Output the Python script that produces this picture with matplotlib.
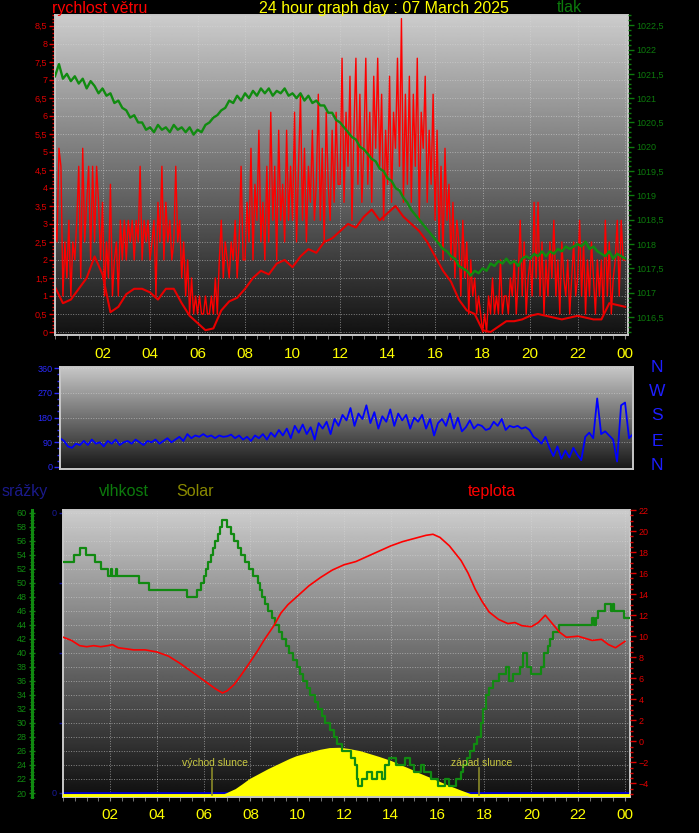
import numpy as np
import matplotlib
matplotlib.use('Agg')
import matplotlib.pyplot as plt
from matplotlib.ticker import MultipleLocator, FixedLocator, FixedFormatter, FuncFormatter

plt.rcParams['font.family'] = ['Liberation Sans', 'DejaVu Sans']

# ---------------- data ----------------
hour_ticks = [2, 4, 6, 8, 10, 12, 14, 16, 18, 20, 22, 24]
hour_labels = ['02', '04', '06', '08', '10', '12', '14', '16', '18', '20', '22', '00']

# wind gusts, m/s, every 5 minutes from 00:00 to 24:00
wind_gust = [
    3.1, 2.5, 5.1, 4.6, 1.0, 2.5, 1.5, 3.1, 1.0, 2.5, 2.0, 3.1,
    4.6, 1.5, 5.1, 2.5, 3.6, 4.6, 2.0, 4.6, 2.5, 4.6, 3.6, 2.0,
    3.6, 1.0, 2.5, 1.5, 4.1, 1.0, 2.0, 2.5, 1.0, 3.1, 2.0, 3.1,
    2.0, 3.1, 2.5, 3.1, 2.0, 3.1, 2.5, 4.6, 2.0, 3.1, 2.5, 3.1,
    2.0, 2.5, 3.1, 1.0, 3.6, 2.5, 4.6, 2.0, 3.6, 2.5, 3.1, 2.0,
    2.5, 4.6, 2.5, 3.1, 1.5, 2.5, 1.0, 2.0, 0.5, 1.5, 0.5, 1.0,
    0.5, 1.0, 0.5, 0.5, 1.0, 0.5, 0.5, 1.0, 0.5, 1.5, 0.5, 2.0,
    3.1, 1.5, 2.5, 2.0, 1.5, 2.5, 2.0, 3.1, 1.5, 2.5, 4.6, 2.0,
    2.0, 3.6, 2.5, 5.1, 2.0, 4.1, 3.1, 5.6, 2.5, 3.6, 2.0, 4.6,
    2.5, 6.1, 3.1, 4.6, 2.0, 5.6, 3.1, 4.1, 2.5, 5.6, 3.1, 4.6,
    3.1, 6.1, 2.5, 4.6, 6.6, 3.1, 5.1, 2.5, 4.6, 3.6, 5.6, 3.1,
    4.1, 6.6, 3.1, 5.1, 2.5, 6.1, 4.1, 3.1, 5.6, 3.6, 6.1, 4.1,
    4.1, 7.6, 3.6, 6.1, 4.6, 7.1, 3.1, 5.6, 7.6, 4.1, 6.6, 3.6,
    5.1, 7.6, 4.1, 6.1, 3.6, 7.1, 5.1, 7.6, 4.6, 6.6, 3.1, 5.6,
    4.1, 7.1, 3.6, 6.1, 5.1, 7.6, 4.6, 8.7, 3.6, 6.6, 4.1, 7.1,
    3.6, 6.6, 4.6, 7.6, 3.1, 6.1, 5.1, 7.1, 3.6, 5.6, 4.1, 6.6,
    3.1, 5.6, 2.5, 4.6, 2.0, 5.1, 3.1, 4.1, 2.0, 3.6, 1.5, 3.1,
    2.5, 1.0, 3.1, 1.5, 2.5, 0.5, 2.0, 1.0, 1.5, 0.5, 1.0, 0.5,
    0.0, 0.5, 0.0, 1.0, 0.5, 1.5, 0.5, 1.0, 0.5, 2.0, 0.5, 1.0,
    1.0, 0.5, 1.5, 1.0, 2.0, 0.5, 1.5, 3.1, 1.0, 2.5, 0.5, 1.5,
    2.0, 1.0, 3.6, 1.5, 3.6, 1.0, 2.5, 0.5, 2.0, 1.0, 2.5, 1.5,
    3.1, 1.0, 2.0, 0.5, 2.5, 1.5, 1.0, 2.0, 0.5, 1.5, 2.5, 1.0,
    1.5, 3.1, 1.0, 2.5, 0.5, 2.0, 1.0, 2.5, 1.5, 0.5, 2.0, 1.0,
    2.0, 0.5, 3.1, 1.0, 2.5, 0.5, 1.5, 2.0, 3.1, 1.0, 3.1, 2.0,
    2.0,
]

# average wind, m/s, every 20 minutes
wind_avg = [
    1.25, 0.8, 0.9, 1.2, 1.5, 2.1, 1.6, 0.55, 0.7, 1.05, 1.2, 1.2,
    1.1, 0.9, 1.2, 1.2, 0.8, 0.45, 0.25, 0.05, 0.1, 0.6, 0.85, 0.95,
    1.2, 1.5, 1.7, 1.6, 1.9, 2.0, 1.8, 2.1, 2.3, 2.2, 2.5, 2.6,
    2.8, 3.0, 2.9, 3.2, 3.4, 3.1, 3.3, 3.5, 3.2, 3.0, 2.8, 2.5,
    2.1, 1.7, 1.4, 0.9, 0.6, 0.5, 0.05, 0.0, 0.15, 0.3, 0.3, 0.35,
    0.45, 0.5, 0.45, 0.4, 0.35, 0.4, 0.45, 0.4, 0.35, 0.35, 0.8, 0.75, 0.7,
]

# pressure, hPa, every 10 minutes
pressure = [
    1021.45, 1021.7, 1021.4, 1021.5, 1021.35, 1021.45,
    1021.3, 1021.4, 1021.2, 1021.35, 1021.25, 1021.1,
    1021.2, 1021.05, 1021.1, 1020.9, 1020.95, 1020.8,
    1020.75, 1020.6, 1020.65, 1020.5, 1020.5, 1020.35,
    1020.4, 1020.3, 1020.45, 1020.35, 1020.4, 1020.3,
    1020.45, 1020.35, 1020.4, 1020.3, 1020.4, 1020.25,
    1020.35, 1020.3, 1020.45, 1020.5, 1020.6, 1020.65,
    1020.75, 1020.8, 1020.95, 1020.9, 1021.05, 1020.95,
    1021.1, 1021.0, 1021.15, 1021.05, 1021.2, 1021.1,
    1021.2, 1021.05, 1021.15, 1021.1, 1021.2, 1021.05,
    1021.1, 1021.0, 1021.1, 1020.95, 1021.05, 1020.9,
    1020.95, 1020.85, 1020.85, 1020.7, 1020.7, 1020.55,
    1020.5, 1020.4, 1020.3, 1020.2, 1020.15, 1020.0,
    1019.95, 1019.85, 1019.75, 1019.7, 1019.55, 1019.5,
    1019.35, 1019.3, 1019.15, 1019.1, 1018.95, 1018.85,
    1018.7, 1018.6, 1018.5, 1018.4, 1018.3, 1018.2,
    1018.1, 1018.0, 1017.9, 1017.85, 1017.75, 1017.7,
    1017.55, 1017.5, 1017.45, 1017.35, 1017.45, 1017.4,
    1017.5, 1017.45, 1017.6, 1017.55, 1017.65, 1017.6,
    1017.7, 1017.6, 1017.65, 1017.55, 1017.7, 1017.75,
    1017.7, 1017.8, 1017.75, 1017.85, 1017.75, 1017.85,
    1017.8, 1017.9, 1017.85, 1017.95, 1017.9, 1017.95,
    1018.0, 1017.95, 1018.05, 1017.9, 1017.95, 1017.85,
    1017.8, 1017.75, 1017.85, 1017.7, 1017.8, 1017.75,
    1017.7,
]

# wind direction, degrees, every 10 minutes
wind_dir = [
    105, 95, 75, 70, 85, 80,
    95, 80, 100, 85, 90, 75,
    95, 85, 100, 80, 90, 95,
    85, 100, 90, 80, 95, 90,
    100, 85, 95, 105, 90, 100,
    110, 95, 120, 105, 115, 110,
    120, 110, 115, 105, 115, 110,
    112, 118, 105, 115, 100, 110,
    95, 115, 105, 120, 100, 125,
    110, 135, 115, 140, 105, 150,
    125, 155, 120, 145, 100, 160,
    140, 165, 120, 175, 150, 190,
    170, 215, 150, 195, 175, 225,
    160, 200, 140, 185, 165, 210,
    150, 195, 170, 190, 140, 180,
    165, 190, 140, 175, 115, 160,
    175, 150, 195, 140, 180, 130,
    145, 170, 140, 155, 150, 135,
    140, 165, 150, 175, 135, 150,
    145, 150, 140, 145, 135, 110,
    100, 85, 110, 70, 40, 75,
    30, 60, 35, 70, 45, 25,
    110, 125, 105, 250, 120, 130,
    115, 100, 20, 225, 235, 105,
    120,
]

# humidity, %, step changes
hum_time = [0.0, 0.45, 0.7, 0.95, 1.35, 1.6, 1.9, 2.05, 2.1, 2.25, 2.3, 3.25, 3.65, 5.3, 5.7,
            5.9, 6.0, 6.1, 6.2, 6.3, 6.4, 6.5, 6.6, 6.7, 6.8, 7.0, 7.15, 7.3, 7.45, 7.6,
            7.75, 7.95, 8.1, 8.3, 8.4, 8.5, 8.6, 8.75, 8.9, 9.05, 9.2, 9.35, 9.5, 9.65, 9.8,
            10.0, 10.1, 10.25, 10.4, 10.55, 10.75, 10.9, 11.05, 11.2, 11.4, 11.55, 11.7, 11.9,
            12.3, 12.45, 12.55, 12.6, 12.75, 13.0, 13.2, 13.4, 13.6, 13.75, 13.9, 14.2, 14.6,
            14.8, 15.0, 15.3, 15.4, 15.7, 16.0, 16.3, 16.5, 16.8, 17.0, 17.1, 17.25, 17.4,
            17.55, 17.7, 17.85, 17.95, 18.05, 18.2, 18.35, 18.6, 18.9, 19.05, 19.2, 19.5,
            19.65, 19.8, 20.0, 20.4, 20.55, 20.7, 20.8, 20.95, 21.2, 22.6, 22.7, 22.75,
            22.85, 23.15, 23.4, 23.5, 23.55, 23.95, 24.22]
hum_value = [53, 54, 55, 54, 53, 52, 51, 52, 51, 52, 51, 50, 49, 48, 49,
             50, 51, 52, 53, 54, 55, 56, 57, 58, 59, 58, 57, 56, 55, 54,
             53, 52, 51, 50, 49, 48, 47, 46, 45, 44, 43, 42, 41, 40, 39,
             38, 37, 36, 35, 34, 33, 32, 31, 30, 29, 28, 27, 26,
             25, 24, 22, 21, 22, 23, 22, 23, 22, 24, 25, 24, 25,
             24, 23, 24, 23, 22, 21, 22, 21, 22, 23, 24, 25, 26,
             27, 28, 30, 32, 34, 35, 36, 37, 38, 36, 37, 38,
             40, 38, 37, 38, 40, 41, 42, 43, 44, 45, 44, 45,
             46, 47, 46, 47, 46, 45, 45]

# temperature, degC
temp_time = [0, 0.35, 0.7, 1.0, 1.3, 1.6, 1.9, 2.1, 2.35, 2.7, 3.0, 3.5, 4.0, 4.5, 5.0, 5.5,
             6.0, 6.5, 6.8, 7.0, 7.3, 7.6, 8.0, 8.3, 8.6, 9.0, 9.3, 9.6, 10.0, 10.5, 11.0,
             11.5, 12.0, 12.5, 13.0, 13.5, 14.0, 14.5, 15.0, 15.5, 15.8, 16.1, 16.5, 17.0,
             17.3, 17.6, 17.9, 18.2, 18.6, 19.0, 19.3, 19.6, 20.0, 20.3, 20.6, 20.9, 21.2,
             21.5, 22.0, 22.3, 22.6, 23.0, 23.3, 23.6, 24.0]
temp_value = [9.9, 9.6, 9.1, 9.0, 9.1, 9.0, 9.1, 9.2, 8.9, 8.8, 8.7, 8.7, 8.5, 8.1, 7.4, 6.6,
              5.8, 5.0, 4.6, 4.8, 5.4, 6.3, 7.6, 8.6, 9.7, 11.0, 12.2, 13.0, 13.8, 14.8, 15.6,
              16.3, 16.8, 17.1, 17.6, 18.1, 18.6, 19.0, 19.3, 19.6, 19.7, 19.4, 18.6, 17.2,
              16.0, 14.5, 13.3, 12.3, 11.6, 11.2, 11.3, 11.0, 10.9, 11.3, 12.0, 11.2, 10.4,
              9.9, 10.0, 9.8, 9.6, 9.7, 9.2, 8.9, 9.5]

# solar radiation, W/m2
solar_time = [0, 6.9, 7.0, 7.4, 7.7, 8.0, 8.8, 9.7, 10.0, 10.5, 11.0, 11.4, 11.8, 12.2, 12.7,
              13.1, 13.5, 14.0, 14.8, 15.2, 15.7, 16.1, 16.5, 17.0, 17.4, 24.22]
solar_value = [0, 0, 3, 18, 35, 53, 88, 123, 133, 144, 155, 161, 162, 158, 150,
               140, 130, 116, 88, 73, 56, 42, 28, 12, 0, 0]

# rain, mm
rain_time = [0, 24.22]
rain_value = [0, 0]

sunrise_h = 6.35
sunset_h = 17.76

# ---------------- figure ----------------
W, H = 699, 833
fig = plt.figure(figsize=(W / 100, H / 100), dpi=100, facecolor='black')


def rect(l, t, r, b):
    return [l / W, 1 - b / H, (r - l) / W, (b - t) / H]


def comma(v, p):
    return ('%g' % v).replace('.', ',')


GRID = dict(color='#d8d8d8', linestyle=(0, (1, 1.6)), linewidth=0.7, alpha=0.55)


def background(r, xlim, ylim, top, bottom, xgrid, ygrid):
    bg = fig.add_axes(r, zorder=0)
    g = np.linspace(top, bottom, 256)[:, None]
    bg.imshow(g, cmap='gray', vmin=0, vmax=1, aspect='auto',
              extent=[xlim[0], xlim[1], ylim[0], ylim[1]], origin='upper',
              interpolation='bilinear')
    bg.set_xlim(*xlim)
    bg.set_ylim(*ylim)
    for v in xgrid:
        bg.axvline(v, **GRID)
    for v in ygrid:
        bg.axhline(v, **GRID)
    bg.set_xticks([])
    bg.set_yticks([])
    for s in bg.spines.values():
        s.set_visible(False)
    return bg


def style_spines(ax, color='#c8c8c8', lw=1.4):
    for s in ax.spines.values():
        s.set_color(color)
        s.set_linewidth(lw)


def hide_spines(ax):
    for s in ax.spines.values():
        s.set_visible(False)


YELLOW = '#ffff00'
RED = '#ff0000'
GREEN = '#108c10'
BLUE = '#0000ff'

# ---------------- top panel: wind + pressure ----------------
top_rect = rect(55, 15, 628, 335)
top_xlim = (0, 24.12)
wind_ylim = (-0.083, 8.8)
background(top_rect, top_xlim, wind_ylim, 0.80, 0.07,
           hour_ticks, np.arange(0, 8.51, 0.5))

ax1 = fig.add_axes(top_rect, zorder=1)
ax1.set_facecolor('none')
t_gust = np.arange(len(wind_gust)) / 12.0
t_avg = np.arange(len(wind_avg)) / 3.0
ax1.plot(t_gust, wind_gust, color=RED, lw=1.0)
ax1.plot(t_avg, wind_avg, color='#e80000', lw=1.5)
ax1.set_xlim(*top_xlim)
ax1.set_ylim(*wind_ylim)
ax1.yaxis.set_major_locator(FixedLocator(np.arange(0, 8.51, 0.5)))
ax1.yaxis.set_minor_locator(MultipleLocator(0.1))
ax1.yaxis.set_major_formatter(FuncFormatter(comma))
ax1.tick_params(axis='y', which='major', colors='#e00000', labelsize=6.5, length=4, width=1, pad=1.5)
ax1.tick_params(axis='y', which='minor', colors='#e00000', length=2, width=1)
ax1.set_xticks(hour_ticks, hour_labels)
ax1.xaxis.set_minor_locator(MultipleLocator(0.5))
ax1.tick_params(axis='x', which='major', colors='#8a8a8a', labelcolor=YELLOW, labelsize=11, length=3, pad=6)
ax1.tick_params(axis='x', which='minor', colors='#8a8a8a', length=3)
style_spines(ax1)

ax1p = ax1.twinx()
ax1p.set_zorder(2)
ax1p.set_facecolor('none')
t_p = np.arange(len(pressure)) / 6.0
ax1p.plot(t_p, pressure, color=GREEN, lw=1.7)
ax1p.set_ylim(1016.13, 1022.71)
ax1p.yaxis.set_major_locator(FixedLocator(np.arange(1016.5, 1022.51, 0.5)))
ax1p.yaxis.set_minor_locator(MultipleLocator(0.1))
ax1p.yaxis.set_major_formatter(FuncFormatter(comma))
ax1p.tick_params(axis='y', which='major', colors='#0c7a0c', labelsize=6.5, length=4, width=1, pad=2)
ax1p.tick_params(axis='y', which='minor', colors='#0c7a0c', length=2, width=1)
hide_spines(ax1p)

# ---------------- middle panel: wind direction ----------------
mid_rect = rect(60, 367, 633, 469)
mid_xlim = (0, 24)
dir_ylim = (-7.3, 364.7)
background(mid_rect, mid_xlim, dir_ylim, 0.78, 0.09, [], [90, 180, 270, 360])
ax2 = fig.add_axes(mid_rect, zorder=1)
ax2.set_facecolor('none')
t_dir = np.arange(len(wind_dir)) / 6.0
ax2.plot(t_dir, wind_dir, color=BLUE, lw=1.3)
ax2.set_xlim(*mid_xlim)
ax2.set_ylim(*dir_ylim)
ax2.set_yticks([0, 90, 180, 270, 360])
ax2.yaxis.set_minor_locator(MultipleLocator(22.5))
ax2.tick_params(axis='y', which='major', colors='#2a2aff', labelsize=6.5, length=4, width=1, pad=1.5)
ax2.tick_params(axis='y', which='minor', colors='#2a2aff', length=2, width=1)
ax2.tick_params(axis='x', which='both', bottom=False, labelbottom=False)
style_spines(ax2)

for lab, y in zip(['N', 'W', 'S', 'E', 'N'], [367, 392, 416, 442, 466]):
    fig.text(657 / W, 1 - y / H, lab, color='#1e1eff', fontsize=12.5,
             ha='center', va='center')

# ---------------- bottom panel ----------------
bot_rect = rect(63.3, 510, 630, 797)
bot_xlim = (0, 24.22)
hum_ylim = (19.43, 60.39)
background(bot_rect, bot_xlim, hum_ylim, 0.80, 0.06,
           hour_ticks, np.arange(20, 60.1, 2))

ax3 = fig.add_axes(bot_rect, zorder=1)
ax3.set_facecolor('none')
ax3.plot(rain_time, rain_value, color='#0000c8', lw=2)
ax3.set_xlim(*bot_xlim)
ax3.set_ylim(-0.0143, 1.0096)
ax3.yaxis.set_major_locator(FixedLocator([0, 0.25, 0.5, 0.75, 1.0]))
ax3.yaxis.set_major_formatter(FixedFormatter(['0', '', '', '', '0']))
ax3.tick_params(axis='y', colors='#1a1a9a', labelsize=6.5, length=3, width=1, pad=1.5)
ax3.set_xticks(hour_ticks, hour_labels)
ax3.xaxis.set_minor_locator(MultipleLocator(0.5))
ax3.tick_params(axis='x', which='major', colors='#8a8a8a', labelcolor=YELLOW, labelsize=11, length=3, pad=5)
ax3.tick_params(axis='x', which='minor', colors='#8a8a8a', length=3)
style_spines(ax3)

# solar
ax3s = ax3.twinx()
ax3s.set_zorder(2)
ax3s.set_facecolor('none')
ax3s.fill_between(solar_time, solar_value, 0, color=YELLOW, lw=0)
ax3s.plot(solar_time, solar_value, color=YELLOW, lw=2.2)
ax3s.set_ylim(-5, 1000)
ax3s.set_yticks([])
hide_spines(ax3s)
for hh in (sunrise_h, sunset_h):
    ax3s.axvline(hh, ymin=0.007, ymax=0.101, color='#8a8a28', lw=1.2)
fig.text(215 / W, 1 - 763 / H, 'východ slunce', color='#c8c840', fontsize=7.5,
         ha='center', va='center')
fig.text(482 / W, 1 - 763 / H, 'západ slunce', color='#c8c840', fontsize=7.5,
         ha='center', va='center')

# humidity
ax3h = ax3.twinx()
ax3h.set_zorder(3)
ax3h.set_facecolor('none')
ax3h.plot(hum_time, hum_value, color='#118a11', lw=1.6, drawstyle='steps-post')
ax3h.set_ylim(*hum_ylim)
ax3h.yaxis.set_ticks_position('left')
ax3h.yaxis.set_label_position('left')
hide_spines(ax3h)
ax3h.spines['left'].set_visible(True)
ax3h.spines['left'].set_position(('outward', 22.75))
ax3h.spines['left'].set_color('#118a11')
ax3h.spines['left'].set_linewidth(2.2)
ax3h.yaxis.set_major_locator(FixedLocator(np.arange(20, 60.1, 2)))
ax3h.yaxis.set_minor_locator(MultipleLocator(0.5))
ax3h.tick_params(axis='y', which='major', colors='#118a11', labelsize=6.5, length=4,
                 width=1, direction='inout', pad=1.5)
ax3h.tick_params(axis='y', which='minor', colors='#118a11', length=2.5, width=0.8,
                 direction='inout')

# temperature
ax3t = ax3.twinx()
ax3t.set_zorder(4)
ax3t.set_facecolor('none')
ax3t.plot(temp_time, temp_value, color=RED, lw=1.2)
ax3t.set_ylim(-5.3, 22.01)
ax3t.yaxis.set_major_locator(FixedLocator(np.arange(-4, 22.1, 2)))
ax3t.yaxis.set_minor_locator(MultipleLocator(0.5))
ax3t.tick_params(axis='y', which='major', colors='#e00000', labelsize=6.5, length=4, width=1, pad=2)
ax3t.tick_params(axis='y', which='minor', colors='#e00000', length=2, width=1)
hide_spines(ax3t)

# ---------------- titles ----------------
fig.text(52 / W, 1 - 8 / H, 'rychlost větru', color=RED, fontsize=11.5, ha='left', va='center')
fig.text(384 / W, 1 - 8 / H, '24 hour graph day : 07 March 2025', color=YELLOW,
         fontsize=11.5, ha='center', va='center')
fig.text(557 / W, 1 - 8 / H, 'tlak', color='#0c7a0c', fontsize=11.5, ha='left', va='center')

fig.text(2 / W, 1 - 491 / H, 'srážky', color='#1a1a8a', fontsize=11.5, ha='left', va='center')
fig.text(99 / W, 1 - 491 / H, 'vlhkost', color='#0c7a0c', fontsize=11.5, ha='left', va='center')
fig.text(176 / W, 1 - 491 / H, 'Solar', color='#8a8a00', fontsize=11.5, ha='left', va='center')
fig.text(468 / W, 1 - 491 / H, 'teplota', color=RED, fontsize=11.5, ha='left', va='center')

fig.savefig('out.png', dpi=100, facecolor='black')
